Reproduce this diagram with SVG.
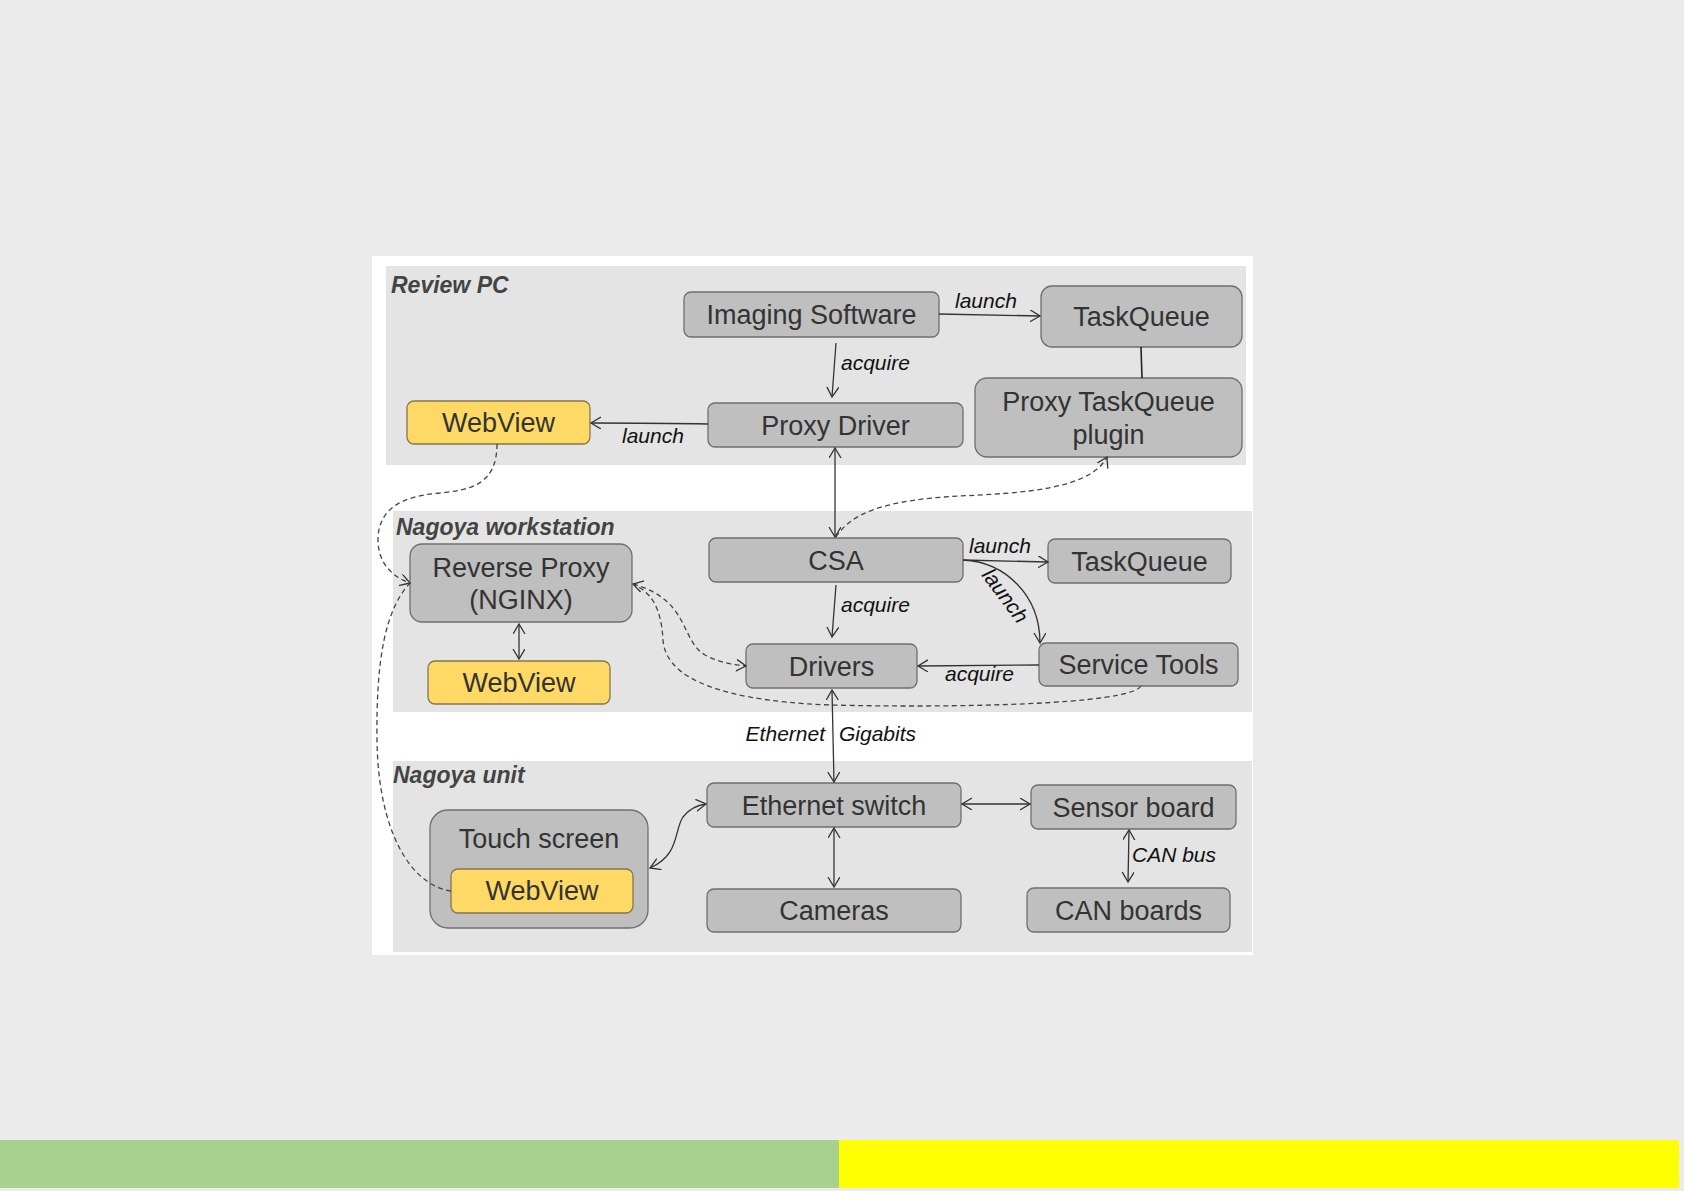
<svg xmlns="http://www.w3.org/2000/svg" width="1684" height="1191" viewBox="0 0 1684 1191">
<defs>
<style>
.sec{fill:#e4e4e4}
.node{fill:#bfbfbf;stroke:#6f6f6f;stroke-width:1.3}
.yel{fill:#ffd966;stroke:#857650;stroke-width:1.3}
.nt{font-family:"Liberation Sans",Arial,sans-serif;font-size:27px;fill:#333;text-anchor:middle}
.st{font-family:"Liberation Sans",Arial,sans-serif;font-size:23px;font-weight:bold;font-style:italic;fill:#444}
.el{font-family:"Liberation Sans",Arial,sans-serif;font-size:21px;font-style:italic;fill:#111}
.ar{fill:none;stroke:#333;stroke-width:1.3}
.da{fill:none;stroke:#444;stroke-width:1.3;stroke-dasharray:5,3.5}
</style>
<marker id="ah" markerUnits="userSpaceOnUse" markerWidth="14" markerHeight="14" refX="10" refY="6" orient="auto-start-reverse" viewBox="0 0 14 14">
<path d="M0,0 L10,6 L0,12" fill="none" stroke="#333" stroke-width="1.3"/>
</marker>
</defs>
<rect x="0" y="0" width="1684" height="1191" fill="#ebebeb"/>
<rect x="372" y="256" width="881" height="699" fill="#ffffff"/>
<g id="sections">
<rect class="sec" x="386" y="266" width="860" height="199"/>
<rect class="sec" x="393" y="511" width="859" height="201"/>
<rect class="sec" x="393" y="761" width="859" height="191"/>
<text class="st" x="391" y="293">Review PC</text>
<text class="st" x="396" y="535">Nagoya workstation</text>
<text class="st" x="393" y="783">Nagoya unit</text>
</g>
<g id="imaging-software"><rect class="node" x="684" y="292" width="255" height="45" rx="7"/><text class="nt" x="811.5" y="324">Imaging Software</text></g>
<g id="taskqueue-review"><rect class="node" x="1041" y="286" width="201" height="61" rx="11"/><text class="nt" x="1141.5" y="326">TaskQueue</text></g>
<g id="proxy-taskqueue-plugin"><rect class="node" x="975" y="378" width="267" height="79" rx="12"/><text class="nt" x="1108.5" y="411">Proxy TaskQueue</text><text class="nt" x="1108.5" y="444">plugin</text></g>
<g id="proxy-driver"><rect class="node" x="708" y="403" width="255" height="44" rx="7"/><text class="nt" x="835.5" y="434.5">Proxy Driver</text></g>
<g id="webview-review"><rect class="yel" x="407" y="401" width="183" height="43" rx="7"/><text class="nt" x="498.5" y="432">WebView</text></g>
<g id="csa"><rect class="node" x="709" y="538" width="254" height="44" rx="7"/><text class="nt" x="836" y="569.5">CSA</text></g>
<g id="taskqueue-ws"><rect class="node" x="1048" y="539" width="183" height="44" rx="7"/><text class="nt" x="1139.5" y="570.5">TaskQueue</text></g>
<g id="reverse-proxy"><rect class="node" x="410" y="544" width="222" height="78" rx="12"/><text class="nt" x="521" y="576.5">Reverse Proxy</text><text class="nt" x="521" y="609">(NGINX)</text></g>
<g id="webview-ws"><rect class="yel" x="428" y="661" width="182" height="43" rx="7"/><text class="nt" x="519" y="692">WebView</text></g>
<g id="drivers"><rect class="node" x="746" y="644" width="171" height="44" rx="7"/><text class="nt" x="831.5" y="675.5">Drivers</text></g>
<g id="service-tools"><rect class="node" x="1039" y="643" width="199" height="43" rx="7"/><text class="nt" x="1138.5" y="674">Service Tools</text></g>
<g id="ethernet-switch"><rect class="node" x="707" y="783" width="254" height="44" rx="7"/><text class="nt" x="834" y="814.5">Ethernet switch</text></g>
<g id="sensor-board"><rect class="node" x="1031" y="785" width="205" height="44" rx="7"/><text class="nt" x="1133.5" y="816.5">Sensor board</text></g>
<g id="cameras"><rect class="node" x="707" y="889" width="254" height="43" rx="7"/><text class="nt" x="834" y="920">Cameras</text></g>
<g id="can-boards"><rect class="node" x="1027" y="888" width="203" height="44" rx="7"/><text class="nt" x="1128.5" y="919.5">CAN boards</text></g>
<g id="touch-screen"><rect class="node" x="430" y="810" width="218" height="118" rx="18"/><text class="nt" x="539" y="847.5">Touch screen</text></g>
<g id="webview-touch"><rect class="yel" x="451" y="869" width="182" height="44" rx="7"/><text class="nt" x="542" y="900">WebView</text></g>
<g id="connectors">
<path class="ar" d="M939,314 L1040,316" marker-end="url(#ah)"/>
<path d="M1141,347 L1142,378" fill="none" stroke="#222" stroke-width="1.6"/>
<path class="ar" d="M836,343 L832,397" marker-end="url(#ah)"/>
<path class="ar" d="M708,424 C660,423 620,423 591,423" marker-end="url(#ah)"/>
<path class="ar" d="M835,448 L835,537" marker-start="url(#ah)" marker-end="url(#ah)"/>
<path class="da" d="M836,537 C850,515 880,500 960,496 C1020,493 1090,490 1107,457" marker-end="url(#ah)"/>
<path class="da" d="M497,444 C497,485 470,490 440,493 C400,496 378,510 378,540 C378,565 395,578 410,583" marker-end="url(#ah)"/>
<path class="da" d="M451,891 C410,885 378,830 377,740 C376,660 385,610 410,583"/>
<path class="ar" d="M963,560 L1048,562" marker-end="url(#ah)"/>
<path class="ar" d="M963,560 C1005,562 1040,595 1040,643" marker-end="url(#ah)"/>
<path class="ar" d="M836,585 L832,637" marker-end="url(#ah)"/>
<path class="ar" d="M1039,665 L918,666" marker-end="url(#ah)"/>
<path class="ar" d="M519,624 L519,659" marker-start="url(#ah)" marker-end="url(#ah)"/>
<path class="da" d="M633,584 C690,600 680,640 705,655 C720,663 735,665 746,666" marker-start="url(#ah)" marker-end="url(#ah)"/>
<path class="da" d="M1141,686 C1130,705 950,708 830,705 C700,700 665,670 663,640 C661,605 650,592 633,584"/>
<path class="ar" d="M832,690 L834,782" marker-start="url(#ah)" marker-end="url(#ah)"/>
<path class="ar" d="M962,804 L1030,804" marker-start="url(#ah)" marker-end="url(#ah)"/>
<path class="ar" d="M834,828 L834,887" marker-start="url(#ah)" marker-end="url(#ah)"/>
<path class="ar" d="M1129,830 L1128,882" marker-start="url(#ah)" marker-end="url(#ah)"/>
<path class="ar" d="M650,868 C680,855 674,830 683,817 C690,808 698,805 706,804" marker-start="url(#ah)" marker-end="url(#ah)"/>
<text class="el" x="955" y="308">launch</text>
<text class="el" x="841" y="370">acquire</text>
<text class="el" x="622" y="443">launch</text>
<text class="el" x="969" y="553">launch</text>
<text class="el" x="0" y="0" text-anchor="middle" transform="translate(999.5,600) rotate(53)">launch</text>
<text class="el" x="841" y="612">acquire</text>
<text class="el" x="945" y="681">acquire</text>
<text class="el" x="825" y="741" text-anchor="end">Ethernet</text>
<text class="el" x="839" y="741">Gigabits</text>
<text class="el" x="1132" y="862">CAN bus</text>
</g>
<g id="footer">
<rect x="0" y="1140" width="839" height="48" fill="#a9d18e"/>
<rect x="839" y="1140" width="840" height="48" fill="#ffff00"/>
</g>
</svg>
